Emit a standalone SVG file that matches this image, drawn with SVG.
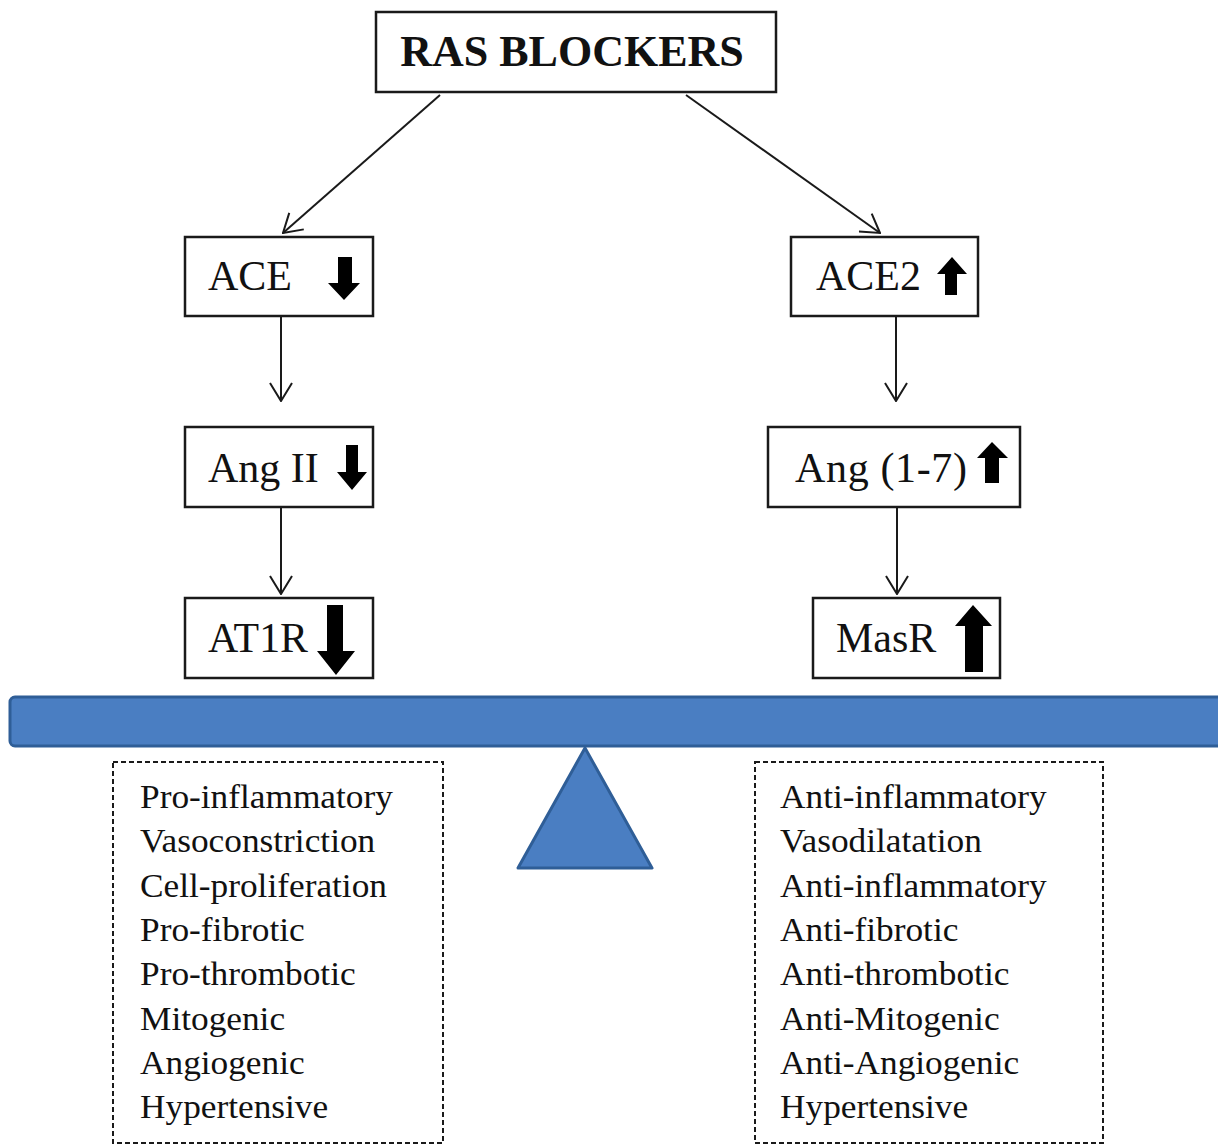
<svg xmlns="http://www.w3.org/2000/svg" width="1218" height="1146" viewBox="0 0 1218 1146">
<defs>
<style>
.box{fill:#ffffff;stroke:#1a1a1a;stroke-width:2.5}
.lbl{font-family:"Liberation Serif","Times New Roman",serif;font-size:42px;fill:#111}
.title{font-family:"Liberation Serif","Times New Roman",serif;font-size:44px;font-weight:bold;fill:#111}
.blk{fill:#000}
.conn{stroke:#1a1a1a;stroke-width:2;fill:none}
.dash{fill:#ffffff;stroke:#1a1a1a;stroke-width:2;stroke-dasharray:5,3}
.list{font-family:"Liberation Serif","Times New Roman",serif;font-size:33px;fill:#111}
</style>
<marker id="open" viewBox="0 0 20 24" refX="19" refY="12" markerWidth="20" markerHeight="24" markerUnits="userSpaceOnUse" orient="auto">
<path d="M1,1 L19,12 L1,23" fill="none" stroke="#1a1a1a" stroke-width="2"/>
</marker>
</defs>
<rect width="1218" height="1146" fill="#ffffff"/>

<g id="connectors">
<line class="conn" x1="440" y1="95" x2="283" y2="233" marker-end="url(#open)"/>
<line class="conn" x1="686" y1="95" x2="880" y2="233" marker-end="url(#open)"/>
<line class="conn" x1="281" y1="317" x2="281" y2="401" marker-end="url(#open)"/>
<line class="conn" x1="896" y1="317" x2="896" y2="401" marker-end="url(#open)"/>
<line class="conn" x1="281" y1="508" x2="281" y2="594" marker-end="url(#open)"/>
<line class="conn" x1="897" y1="508" x2="897" y2="594" marker-end="url(#open)"/>
</g>

<g id="ras-blockers">
<rect class="box" x="376" y="12" width="400" height="80"/>
<text class="title" x="572" y="66" text-anchor="middle">RAS BLOCKERS</text>
</g>

<g id="ace">
<rect class="box" x="185" y="237" width="188" height="79"/>
<text class="lbl" x="208" y="290">ACE</text>
<polygon class="blk" points="338,257 352,257 352,283 360,283 344,300 328,283 338,283"/>
</g>

<g id="ace2">
<rect class="box" x="791" y="237" width="187" height="79"/>
<text class="lbl" x="816" y="290">ACE2</text>
<polygon class="blk" points="952,257 967,274 957,274 957,295 945,295 945,274 937,274"/>
</g>

<g id="ang-ii">
<rect class="box" x="185" y="427" width="188" height="80"/>
<text class="lbl" x="208" y="482">Ang II</text>
<polygon class="blk" points="346,445 358,445 358,472 367,472 352,490 337,472 346,472"/>
</g>

<g id="ang-1-7">
<rect class="box" x="768" y="427" width="252" height="80"/>
<text class="lbl" x="795" y="482" textLength="172" lengthAdjust="spacing">Ang (1-7)</text>
<polygon class="blk" points="992,442 1008,458 999,458 999,483 985,483 985,458 977,458"/>
</g>

<g id="at1r">
<rect class="box" x="185" y="598" width="188" height="80"/>
<text class="lbl" x="208" y="652" textLength="100" lengthAdjust="spacingAndGlyphs">AT1R</text>
<polygon class="blk" points="327,605 343,605 343,651 355,651 336,675 317,651 327,651"/>
</g>

<g id="masr">
<rect class="box" x="813" y="598" width="187" height="80"/>
<text class="lbl" x="836" y="652">MasR</text>
<polygon class="blk" points="973,605 992,626 983,626 983,672 965,672 965,626 955,626"/>
</g>

<g id="balance">
<rect x="10" y="697" width="1220" height="49" rx="5" fill="#4a7ec2" stroke="#2f5e97" stroke-width="3"/>
<polygon points="585,748 652,868 518,868" fill="#4a7ec2" stroke="#2f5e97" stroke-width="3" stroke-linejoin="round"/>
</g>

<g id="left-effects">
<rect class="dash" x="113" y="762" width="330" height="381"/>
<g class="list" transform="matrix(1.07 0 0 1 140 0)">
<text x="0" y="808">Pro-inflammatory</text>
<text x="0" y="852">Vasoconstriction</text>
<text x="0" y="897">Cell-proliferation</text>
<text x="0" y="941">Pro-fibrotic</text>
<text x="0" y="985">Pro-thrombotic</text>
<text x="0" y="1030">Mitogenic</text>
<text x="0" y="1074">Angiogenic</text>
<text x="0" y="1118">Hypertensive</text>
</g>
</g>

<g id="right-effects">
<rect class="dash" x="755" y="762" width="348" height="381"/>
<g class="list" transform="matrix(1.07 0 0 1 780 0)">
<text x="0" y="808">Anti-inflammatory</text>
<text x="0" y="852">Vasodilatation</text>
<text x="0" y="897">Anti-inflammatory</text>
<text x="0" y="941">Anti-fibrotic</text>
<text x="0" y="985">Anti-thrombotic</text>
<text x="0" y="1030">Anti-Mitogenic</text>
<text x="0" y="1074">Anti-Angiogenic</text>
<text x="0" y="1118">Hypertensive</text>
</g>
</g>
</svg>
